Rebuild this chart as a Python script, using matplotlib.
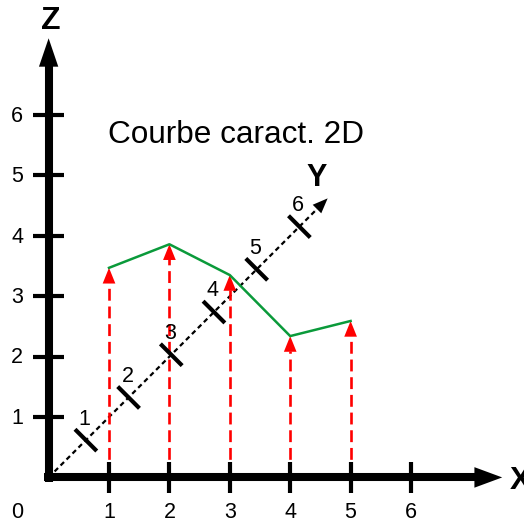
import matplotlib
matplotlib.use("Agg")
import matplotlib.pyplot as plt

# characteristic curve: height (Z) read at each X position
x_pts = [1, 2, 3, 4, 5]
z_pts = [3.47, 3.86, 3.35, 2.34, 2.59]

x_ticks = [1, 2, 3, 4, 5, 6]
z_ticks = [1, 2, 3, 4, 5, 6]
y_ticks = [1, 2, 3, 4, 5, 6]
x_ticklabels = ["1", "2", "3", "4", "5", "6"]
z_ticklabels = ["1", "2", "3", "4", "5", "6"]
y_ticklabels = ["1", "2", "3", "4", "5", "6"]

title = "Courbe caract. 2D"

# Y is drawn in oblique projection along the diagonal
Y_STEP = 0.707
Y_OFF = -0.09

def y_pos(k):
    return Y_OFF + Y_STEP * k

plt.rcParams["font.family"] = ["Liberation Sans", "DejaVu Sans"]

fig = plt.figure(figsize=(5.24, 5.22), dpi=100)
ax = fig.add_axes([0, 0, 1, 1])
ax.set_xlim(-0.805, 7.871)
ax.set_ylim(-0.738, 7.904)
ax.axis("off")

LBL = 15.5

# dashed red arrows from the X axis up to the curve
for x, z in zip(x_pts, z_pts):
    hl = 0.26
    ax.plot([x, x], [0, z - hl + 0.02], color="red", lw=1.9,
            dashes=(4.5, 2.2), zorder=3)
    ax.arrow(x, z - hl, 0, hl, width=0.001, head_width=0.21, head_length=hl,
             length_includes_head=True, color="red", lw=0, zorder=4)

# curve
ax.plot(x_pts, z_pts, color="#0a9a3a", lw=1.8, zorder=5)

# Y axis (dotted diagonal)
y_end = 4.62
ax.plot([0, y_end - 0.2], [0, y_end - 0.2], color="black", lw=1.6,
        dashes=(2.2, 1.6), zorder=2)
ax.arrow(y_end - 0.25, y_end - 0.25, 0.25, 0.25, width=0.001,
         head_width=0.2, head_length=0.25, length_includes_head=True,
         color="black", lw=0, zorder=2)
for k, lab in zip(y_ticks, y_ticklabels):
    p = y_pos(k)
    ax.plot([p - 0.18, p + 0.18], [p + 0.18, p - 0.18], color="black",
            lw=3, solid_capstyle="butt", zorder=6)
    ax.text(p - 0.02, p + 0.35, lab, fontsize=LBL, ha="center", va="center")
ax.text(4.43, 4.95, "Y", fontsize=22, fontweight="bold", ha="center",
        va="center")

# X axis
ax.plot([-0.07, 7.1], [0, 0], color="black", lw=5.8, solid_capstyle="butt",
        zorder=7)
ax.arrow(7.05, 0, 0.46, 0, width=0.001, head_width=0.34, head_length=0.46,
         length_includes_head=True, color="black", lw=0, zorder=7)
for t, lab in zip(x_ticks, x_ticklabels):
    ax.plot([t, t], [-0.26, 0.25], color="black", lw=3,
            solid_capstyle="butt", zorder=7)
    ax.text(t, -0.58, lab, fontsize=LBL, ha="center", va="center")
ax.text(-0.52, -0.58, "0", fontsize=LBL, ha="center", va="center")
ax.text(7.64, -0.06, "X", fontsize=23, fontweight="bold", ha="left",
        va="center")

# Z axis
ax.plot([0, 0], [-0.07, 6.85], color="black", lw=5.8, solid_capstyle="butt",
        zorder=7)
ax.arrow(0, 6.8, 0, 0.47, width=0.001, head_width=0.32, head_length=0.47,
         length_includes_head=True, color="black", lw=0, zorder=7)
for t, lab in zip(z_ticks, z_ticklabels):
    ax.plot([-0.26, 0.26], [t, t], color="black", lw=3,
            solid_capstyle="butt", zorder=7)
    ax.text(-0.52, t - 0.02, lab, fontsize=LBL, ha="center", va="center")
ax.text(0.04, 7.56, "Z", fontsize=23, fontweight="bold", ha="center",
        va="center")

ax.text(0.98, 5.67, title, fontsize=22.7, ha="left", va="center")

fig.savefig("out.png", dpi=100)
